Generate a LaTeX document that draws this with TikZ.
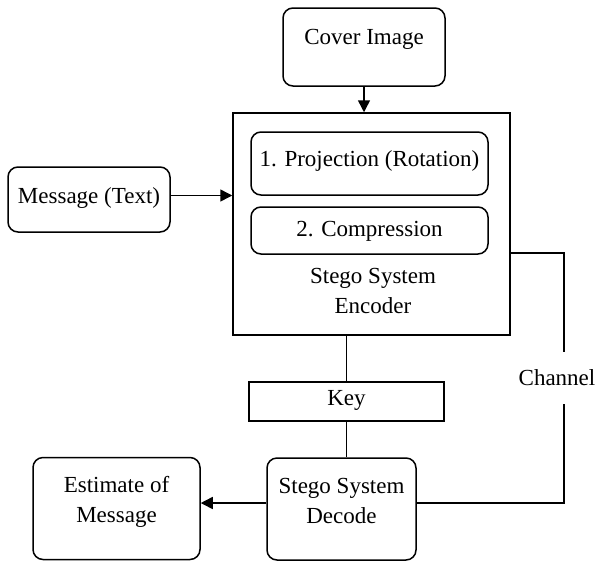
\documentclass[tikz,border=0pt]{standalone}
\usepackage{fontspec}
\setmainfont{Liberation Serif}
\usetikzlibrary{arrows.meta,positioning}

\begin{document}
\begin{tikzpicture}[x=0.5pt, y=-0.5pt,
	every node/.style={font=\fontsize{11.5}{15}\selectfont},
	block/.style={draw, line width=0.75pt, rounded corners=5pt, inner sep=0pt, align=center},
	plainbox/.style={draw, line width=0.75pt, inner sep=0pt},
	link/.style={line width=0.75pt},
	arrow/.style={line width=0.75pt, -{Triangle[length=6pt,width=6pt]}}]
	\useasboundingbox (0,0) rectangle (598,562);
	% boxes
	\node [block, minimum width=81pt, text height=18pt, text depth=21pt] (cover) at (364,47) {Cover Image};
	\node [block, minimum width=81pt, text height=18pt, text depth=14.5pt] (msg) at (89,199.5) {Message (Text)};
	\node [plainbox, minimum width=138.5pt, minimum height=111pt] (enc) at (371.5,224) {};
	\node [block, minimum width=118.5pt, text height=17pt, text depth=14.5pt] (proj) at (369.5,163.5) {1. Projection (Rotation)};
	\node [block, minimum width=118.5pt, text height=14.5pt, text depth=9pt] (comp) at (369.5,230.5) {2. Compression};
	\node [align=center, inner sep=0pt, below=6.7pt of comp, xshift=1.75pt] (encText) {Stego System\\Encoder};
	\node [plainbox, minimum width=97.5pt, text height=11.5pt, text depth=8pt] (key) at (346.5,401.5) {Key};
	\node [block, minimum width=74.5pt, text height=32.5pt, text depth=18.5pt] (dec) at (341.5,509) {Stego System\\Decode};
	\node [block, minimum width=83.5pt, text height=32.5pt, text depth=18.5pt] (est) at (116.5,508.5) {Estimate of\\Message};
	% connectors
	\draw [arrow] (cover.south) -- (cover.south |- enc.north);
	\draw [arrow] ([yshift=2pt]msg.east) -- ([yshift=2pt]msg.east -| enc.west);
	\draw [link] (key.north |- enc.south) -- (key.north);
	\draw [link] (key.south) -- (key.south |- dec.north);
	\draw [arrow] ([yshift=3pt]dec.west) -- ([yshift=3pt]dec.west -| est.east);
	\coordinate (chanTop) at (564,253);
	\coordinate (chanBot) at (564,503);
	\draw [link] (chanTop -| enc.east) -- (chanTop)
		-- node [fill=white, inner xsep=0pt, inner ysep=9pt, xshift=-3.5pt] (chan) {Channel} (chanBot)
		-- (chanBot -| dec.east);
\end{tikzpicture}
\end{document}
